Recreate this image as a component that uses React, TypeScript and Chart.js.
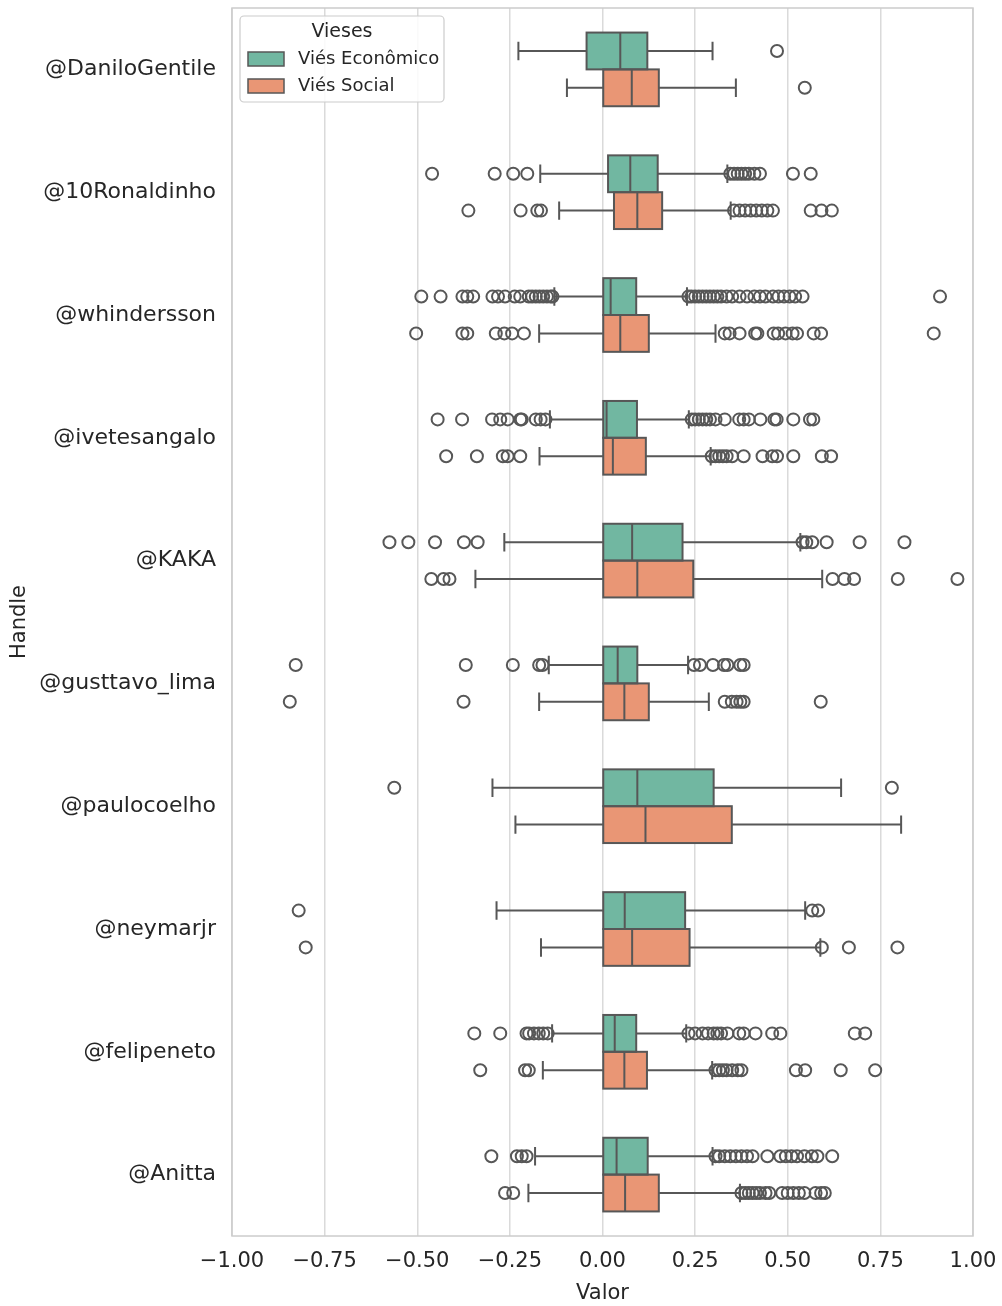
import React, { useEffect, useRef } from 'react';
import { Chart, registerables } from 'chart.js';

Chart.register(...registerables);

const categories = ['@DaniloGentile', '@10Ronaldinho', '@whindersson', '@ivetesangalo', '@KAKA', '@gusttavo_lima', '@paulocoelho', '@neymarjr', '@felipeneto', '@Anitta'];
const seriesNames = ['Viés Econômico', 'Viés Social'];
const seriesColors = ['#71b7a1', '#e99675'];
const xTicks = [-1, -0.75, -0.5, -0.25, 0, 0.25, 0.5, 0.75, 1];

const econLow = [-0.227, -0.168, -0.130, -0.142, -0.265, -0.145, -0.297, -0.286, -0.136, -0.182];
const econQ1 = [-0.043, 0.015, 0.0, 0.0, 0.0, 0.0, 0.0, 0.0, 0.0, 0.0];
const econMed = [0.048, 0.075, 0.022, 0.011, 0.080, 0.041, 0.094, 0.060, 0.033, 0.038];
const econQ3 = [0.121, 0.149, 0.091, 0.093, 0.216, 0.094, 0.300, 0.223, 0.091, 0.122];
const econHigh = [0.297, 0.337, 0.228, 0.233, 0.534, 0.231, 0.644, 0.547, 0.226, 0.297];
const econOutliers = [
  [0.471],
  [-0.46, -0.291, -0.241, -0.203, 0.345, 0.355, 0.365, 0.375, 0.385, 0.395, 0.41, 0.425, 0.514, 0.562],
  [-0.489, -0.437, -0.378, -0.365, -0.349, -0.297, -0.282, -0.263, -0.237, -0.222, -0.199, -0.19, -0.18, -0.17, -0.16, -0.15, -0.14, -0.135, 0.232, 0.24, 0.25, 0.26, 0.27, 0.28, 0.29, 0.3, 0.31, 0.32, 0.335, 0.35, 0.37, 0.39, 0.41, 0.425, 0.44, 0.46, 0.475, 0.49, 0.505, 0.52, 0.54, 0.911],
  [-0.445, -0.379, -0.298, -0.276, -0.256, -0.222, -0.218, -0.18, -0.167, -0.154, 0.241, 0.25, 0.26, 0.27, 0.28, 0.29, 0.305, 0.33, 0.369, 0.381, 0.395, 0.426, 0.464, 0.47, 0.515, 0.56, 0.569],
  [-0.575, -0.524, -0.452, -0.374, -0.337, 0.54, 0.55, 0.566, 0.605, 0.694, 0.815],
  [-0.828, -0.369, -0.242, -0.171, -0.162, 0.247, 0.263, 0.298, 0.328, 0.337, 0.372, 0.381],
  [-0.562, 0.781],
  [-0.82, 0.566, 0.582],
  [-0.346, -0.276, -0.205, -0.198, -0.185, -0.172, -0.16, -0.148, 0.232, 0.25, 0.27, 0.285, 0.3, 0.31, 0.32, 0.337, 0.369, 0.381, 0.413, 0.458, 0.48, 0.681, 0.709],
  [-0.3, -0.231, -0.218, -0.205, 0.305, 0.315, 0.33, 0.345, 0.36, 0.375, 0.39, 0.405, 0.445, 0.48, 0.495, 0.51, 0.525, 0.545, 0.565, 0.58, 0.62],
];

const socialLow = [-0.096, -0.117, -0.171, -0.170, -0.343, -0.171, -0.235, -0.166, -0.161, -0.200];
const socialQ1 = [0.0, 0.031, 0.0, 0.0, 0.0, 0.0, 0.0, 0.0, 0.0, 0.0];
const socialMed = [0.079, 0.094, 0.048, 0.028, 0.094, 0.059, 0.116, 0.080, 0.059, 0.061];
const socialQ3 = [0.152, 0.161, 0.125, 0.117, 0.245, 0.125, 0.349, 0.235, 0.120, 0.152];
const socialHigh = [0.360, 0.346, 0.305, 0.292, 0.593, 0.287, 0.806, 0.588, 0.296, 0.371];
const socialOutliers = [
  [0.546],
  [-0.362, -0.221, -0.176, -0.166, 0.355, 0.37, 0.385, 0.4, 0.415, 0.43, 0.445, 0.46, 0.562, 0.591, 0.619],
  [-0.503, -0.378, -0.365, -0.288, -0.265, -0.244, -0.212, 0.33, 0.343, 0.37, 0.412, 0.418, 0.462, 0.474, 0.494, 0.513, 0.525, 0.57, 0.59, 0.894],
  [-0.422, -0.339, -0.269, -0.256, -0.222, 0.295, 0.305, 0.315, 0.325, 0.335, 0.35, 0.381, 0.432, 0.458, 0.471, 0.515, 0.592, 0.617],
  [-0.462, -0.429, -0.413, 0.621, 0.653, 0.679, 0.797, 0.958],
  [-0.844, -0.375, 0.33, 0.349, 0.362, 0.372, 0.381, 0.589],
  [],
  [-0.801, 0.592, 0.665, 0.796],
  [-0.33, -0.209, -0.199, 0.305, 0.315, 0.325, 0.335, 0.35, 0.365, 0.375, 0.522, 0.547, 0.643, 0.736],
  [-0.263, -0.241, 0.375, 0.385, 0.395, 0.405, 0.415, 0.425, 0.44, 0.45, 0.485, 0.5, 0.515, 0.53, 0.545, 0.575, 0.59, 0.6],
];

const EDGE = '#575757';
const TEXT = '#262626';
const FONT = "'DejaVu Sans', sans-serif";

const stats = [
  { low: econLow, med: econMed, high: econHigh, out: econOutliers },
  { low: socialLow, med: socialMed, high: socialHigh, out: socialOutliers },
];

const boxPlugin = {
  id: 'boxparts',
  beforeDatasetsDraw(chart: any) {
    const { ctx, chartArea } = chart;
    ctx.save();
    ctx.strokeStyle = '#cccccc';
    ctx.lineWidth = 1.5;
    ctx.strokeRect(chartArea.left, chartArea.top, chartArea.right - chartArea.left, chartArea.bottom - chartArea.top);
    ctx.restore();
  },
  afterDatasetsDraw(chart: any) {
    const { ctx } = chart;
    const xs = chart.scales.x;
    ctx.save();
    ctx.strokeStyle = EDGE;
    stats.forEach((s, d) => {
      const meta = chart.getDatasetMeta(d);
      meta.data.forEach((el: any, i: number) => {
        const p = el.getProps(['x', 'y', 'base', 'height'], true);
        const y = p.y;
        const h = p.height;
        const left = Math.min(p.x, p.base);
        const right = Math.max(p.x, p.base);
        const xl = xs.getPixelForValue(s.low[i]);
        const xh = xs.getPixelForValue(s.high[i]);
        const xm = xs.getPixelForValue(s.med[i]);
        ctx.lineWidth = 2;
        ctx.strokeRect(left, y - h / 2, right - left, h);
        ctx.beginPath();
        ctx.moveTo(xl, y); ctx.lineTo(left, y);
        ctx.moveTo(right, y); ctx.lineTo(xh, y);
        ctx.moveTo(xl, y - h / 4); ctx.lineTo(xl, y + h / 4);
        ctx.moveTo(xh, y - h / 4); ctx.lineTo(xh, y + h / 4);
        ctx.moveTo(xm, y - h / 2); ctx.lineTo(xm, y + h / 2);
        ctx.stroke();
        s.out[i].forEach((v: number) => {
          ctx.beginPath();
          ctx.arc(xs.getPixelForValue(v), y, 6, 0, Math.PI * 2);
          ctx.stroke();
        });
      });
    });
    ctx.restore();
  },
  afterDraw(chart: any) {
    const { ctx, chartArea } = chart;
    const x0 = chartArea.left + 8;
    const y0 = chartArea.top + 8;
    const w = 204;
    const h = 86;
    ctx.save();
    ctx.fillStyle = 'rgba(255,255,255,0.85)';
    ctx.strokeStyle = '#cccccc';
    ctx.lineWidth = 1.2;
    ctx.beginPath();
    if ((ctx as any).roundRect) (ctx as any).roundRect(x0, y0, w, h, 4); else ctx.rect(x0, y0, w, h);
    ctx.fill();
    ctx.stroke();
    ctx.fillStyle = TEXT;
    ctx.font = `19px ${FONT}`;
    ctx.textAlign = 'center';
    ctx.textBaseline = 'middle';
    ctx.fillText('Vieses', x0 + 102, y0 + 16);
    ctx.textAlign = 'left';
    ctx.font = `18px ${FONT}`;
    seriesNames.forEach((name, k) => {
      const cy = y0 + 43 + k * 27;
      ctx.fillStyle = seriesColors[k];
      ctx.fillRect(x0 + 8, cy - 7, 36, 14);
      ctx.strokeStyle = EDGE;
      ctx.lineWidth = 1.5;
      ctx.strokeRect(x0 + 8, cy - 7, 36, 14);
      ctx.fillStyle = TEXT;
      ctx.fillText(name, x0 + 58, cy);
    });
    ctx.restore();
  },
};

export default function App() {
  const ref = useRef<HTMLCanvasElement>(null);
  useEffect(() => {
    if (!ref.current) return;
    const datasets = [
      { label: seriesNames[0], data: econQ1.map((q, i) => [q, econQ3[i]]), backgroundColor: seriesColors[0] },
      { label: seriesNames[1], data: socialQ1.map((q, i) => [q, socialQ3[i]]), backgroundColor: seriesColors[1] },
    ].map((d) => ({ ...d, borderWidth: 0, borderSkipped: false, categoryPercentage: 0.6, barPercentage: 1 }));
    const chart = new Chart(ref.current, {
      type: 'bar',
      data: { labels: categories, datasets: datasets as any },
      options: {
        indexAxis: 'y',
        responsive: false,
        animation: false,
        layout: { padding: { top: 8, right: 29, left: 0, bottom: 0 } },
        plugins: { legend: { display: false }, tooltip: { enabled: false } },
        scales: {
          x: {
            type: 'linear',
            min: -1,
            max: 1,
            afterBuildTicks: (scale: any) => { scale.ticks = xTicks.map((v) => ({ value: v })); },
            afterFit: (scale: any) => { scale.height = 70; scale.paddingLeft = 0; scale.paddingRight = 0; },
            ticks: {
              color: TEXT,
              font: { family: FONT, size: 21 },
              padding: 13,
              maxRotation: 0,
              callback: (v: any) => (Number(v) < 0 ? '\u2212' : '') + Math.abs(Number(v)).toFixed(2),
            },
            grid: { color: '#dadada', lineWidth: 1.5, drawTicks: false },
            border: { display: false },
            title: { display: true, text: 'Valor', color: TEXT, font: { family: FONT, size: 21 }, padding: { top: 0, bottom: 0 } },
          },
          y: {
            type: 'category',
            afterFit: (scale: any) => { scale.width = 232; scale.paddingTop = 0; scale.paddingBottom = 0; },
            ticks: { color: TEXT, font: { family: FONT, size: 22 }, padding: 16 },
            grid: { display: false, drawTicks: false },
            border: { display: false },
            title: { display: true, text: 'Handle', color: TEXT, font: { family: FONT, size: 21 }, padding: { top: 7, bottom: 0 } },
          },
        },
      } as any,
      plugins: [boxPlugin],
    });
    return () => chart.destroy();
  }, []);
  return (
    <div style={{ position: 'fixed', left: 0, top: 0, width: 1002, height: 1306, background: '#fff' }}>
      <canvas ref={ref} width={1002} height={1306} />
    </div>
  );
}
